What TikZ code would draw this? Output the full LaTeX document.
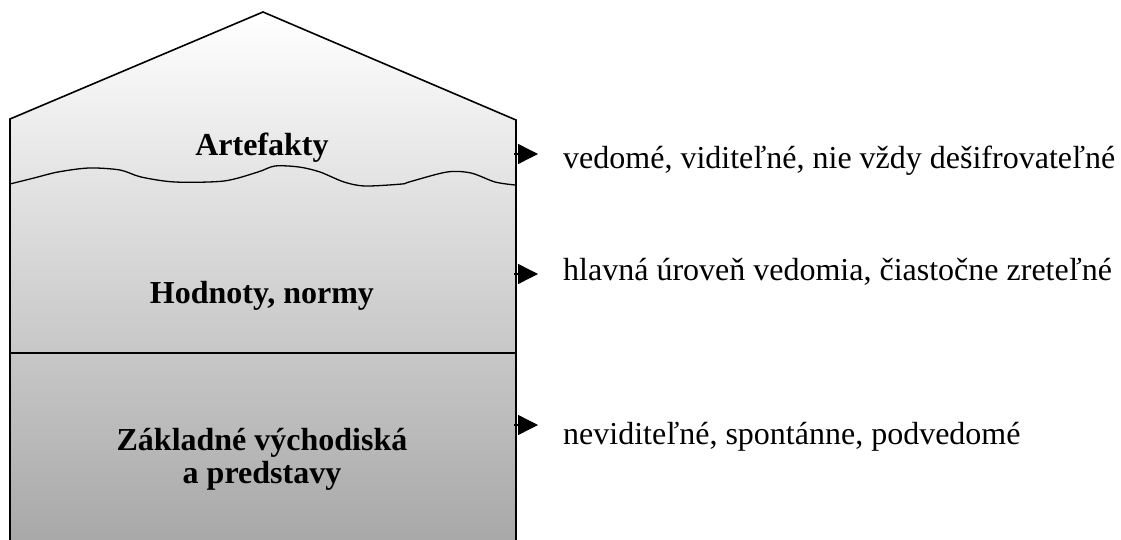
\documentclass[tikz,border=0pt]{standalone}
\usepackage{fontspec}
\setmainfont{Liberation Serif}
\usetikzlibrary{arrows.meta}
\begin{document}
\begin{tikzpicture}[x=1pt,y=-1pt,
  outline/.style={line width=1.6pt, line join=miter},
  layerlabel/.style={font=\fontsize{32}{33}\selectfont\bfseries, inner sep=0pt, align=center, anchor=base},
  desc/.style={font=\fontsize{32}{36}\selectfont, inner sep=0pt, anchor=base west},
  pointer/.style={line width=1.4pt, -{Triangle[length=20pt,width=20pt]}}]
\useasboundingbox (0,0) rectangle (1121,540);
% house body with gradient
\shade[top color=white, bottom color=black!34] (10,540) -- (10,119) -- (263,12) -- (516,120) -- (516,540) -- cycle;
\draw[outline] (10,541) -- (10,119) -- (263,12) -- (516,120) -- (516,541);
% wavy boundary
\draw[line width=1.3pt] plot[smooth, tension=0.5] coordinates {
 (10,184) (34,178) (58,172) (89,168) (120,170) (141,177) (175,182) (224,181)
 (258,172) (275,166) (299,167) (320,172) (344,182) (365,186) (402,184) (409,182)
 (447,172) (471,173) (495,182) (515,185)};
% straight boundary
\draw[line width=1.3pt] (10,353) -- (516,353);
% labels
\node[layerlabel] (art) at (262,156) {Artefakty};
\node[layerlabel] (hod) at (262,303) {Hodnoty, normy};
\node[layerlabel] (zak) at (262,483) {Základné východiská\\a predstavy};
% descriptions
\node[desc] (d1) at (563,169) {vedomé, viditeľné, nie vždy dešifrovateľné};
\node[desc] (d2) at (563,280) {hlavná úroveň vedomia, čiastočne zreteľné};
\node[desc] (d3) at (563,444) {neviditeľné, spontánne, podvedomé};
% arrows
\coordinate (w1) at (514,154); \coordinate (e1) at (538,154);
\coordinate (w2) at (514,274); \coordinate (e2) at (538,274);
\coordinate (w3) at (514,425); \coordinate (e3) at (538,425);
\draw[pointer] (w1) -- (e1);
\draw[pointer] (w2) -- (e2);
\draw[pointer] (w3) -- (e3);
\end{tikzpicture}
\end{document}
